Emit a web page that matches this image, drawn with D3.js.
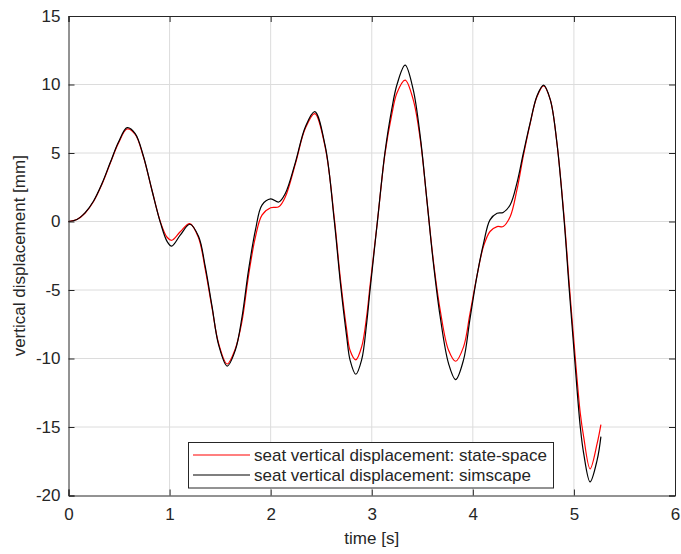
<!DOCTYPE html>
<html>
<head>
<meta charset="utf-8">
<script src="https://cdn.jsdelivr.net/npm/d3@7/dist/d3.min.js"></script>
<style>
  html, body { margin: 0; padding: 0; background: #fff; }
  svg { display: block; }
  text { font-family: "Liberation Sans", Arial, Helvetica, sans-serif; fill: #262626; }
</style>
</head>
<body>
<svg id="chart" width="681" height="554"></svg>
<script>
// Sample times [s]
const time = [
  0.000, 0.083, 0.165, 0.248, 0.330, 0.413, 0.495, 0.580, 0.660, 0.740,
  0.825, 0.910, 0.975, 1.020, 1.105, 1.200, 1.287, 1.353, 1.420, 1.485,
  1.570, 1.650, 1.716, 1.780, 1.850, 1.914, 2.000, 2.080, 2.145, 2.244,
  2.343, 2.436, 2.540, 2.630, 2.690, 2.752, 2.785, 2.842, 2.900, 2.950,
  2.983, 3.056, 3.130, 3.198, 3.250, 3.330, 3.410, 3.480, 3.545, 3.610,
  3.677, 3.760, 3.830, 3.908, 3.970, 4.040, 4.106, 4.170, 4.240, 4.300,
  4.370, 4.436, 4.500, 4.567, 4.634, 4.700, 4.766, 4.832, 4.904, 4.954,
  5.007, 5.063, 5.096, 5.160, 5.230, 5.267
];

// Seat vertical displacement, state-space model [mm]
const stateSpace = [
  0.00, 0.14, 0.62, 1.46, 2.70, 4.25, 5.74, 6.75, 6.35, 4.75,
  2.30, -0.05, -1.15, -1.37, -0.75, -0.15, -1.20, -3.50, -6.30, -8.90,
  -10.40, -9.30, -7.30, -4.00, -1.10, 0.46, 1.00, 1.07, 1.80, 4.20,
  6.80, 7.88, 5.40, 0.20, -4.20, -7.90, -9.40, -10.10, -9.15, -6.90,
  -4.70, 0.00, 4.90, 7.80, 9.40, 10.32, 8.90, 6.00, 1.60, -2.90,
  -6.46, -9.40, -10.20, -9.15, -6.80, -4.00, -1.80, -0.73, -0.37, -0.37,
  0.37, 2.30, 4.80, 7.15, 9.10, 9.90, 8.90, 5.73, 0.20, -4.60,
  -9.40, -14.00, -15.70, -18.05, -16.20, -14.83
];

// Seat vertical displacement, Simscape model [mm]
const simscape = [
  0.00, 0.15, 0.65, 1.50, 2.75, 4.30, 5.80, 6.85, 6.42, 4.80,
  2.30, -0.10, -1.45, -1.80, -1.00, -0.20, -1.10, -3.30, -6.20, -9.00,
  -10.55, -9.40, -7.00, -3.60, -0.60, 1.20, 1.65, 1.42, 2.05, 4.30,
  6.90, 8.02, 5.50, 0.00, -4.50, -8.40, -10.10, -11.15, -10.10, -7.40,
  -5.00, 0.00, 5.00, 8.20, 10.00, 11.41, 9.63, 6.20, 1.60, -3.05,
  -6.95, -10.37, -11.54, -10.10, -7.20, -4.00, -1.60, 0.12, 0.60, 0.66,
  1.22, 2.80, 5.00, 7.20, 9.15, 9.95, 8.90, 5.73, 0.00, -5.00,
  -10.00, -15.00, -16.90, -19.00, -17.40, -15.70
];

const xTicks = [0, 1, 2, 3, 4, 5, 6];
const yTicks = [-20, -15, -10, -5, 0, 5, 10, 15];

const seriesNames = [
  "seat vertical displacement: state-space",
  "seat vertical displacement: simscape"
];
const seriesColors = ["#ff0000", "#000000"];

const svg = d3.select("#chart");
const plot = { left: 68.5, right: 675, top: 16, bottom: 495.5 };

const x = d3.scaleLinear().domain([0, 6]).range([plot.left, plot.right]);
const y = d3.scaleLinear().domain([-20, 15]).range([plot.bottom, plot.top]);

const axisColor = "#262626";
const fontSize = 17;

// Grid
const grid = svg.append("g");
grid.selectAll("line.vx").data(xTicks.slice(1, -1)).join("line")
  .attr("x1", d => x(d)).attr("x2", d => x(d))
  .attr("y1", plot.top).attr("y2", plot.bottom)
  .attr("stroke", "#dcdcdc").attr("stroke-width", 1);
grid.selectAll("line.hy").data(yTicks.slice(1, -1)).join("line")
  .attr("y1", d => y(d)).attr("y2", d => y(d))
  .attr("x1", plot.left).attr("x2", plot.right)
  .attr("stroke", "#dcdcdc").attr("stroke-width", 1);

// Curves
const line = d3.line().curve(d3.curveCatmullRom.alpha(0.5))
  .x(d => x(d[0])).y(d => y(d[1]));
const series = [stateSpace, simscape];
const curves = svg.append("g");
series.forEach((vals, i) => {
  curves.append("path")
    .datum(time.map((t, k) => [t, vals[k]]))
    .attr("d", line)
    .attr("fill", "none")
    .attr("stroke", seriesColors[i])
    .attr("stroke-width", 1.2)
    .attr("stroke-linejoin", "round");
});

// Axes (ticks inward, mirrored box)
const tickLen = 6;
const xAxis = d3.axisBottom(x).tickValues(xTicks).tickSize(-tickLen).tickPadding(12)
  .tickFormat(d3.format("d"));
const yAxis = d3.axisLeft(y).tickValues(yTicks).tickSize(-tickLen).tickPadding(8)
  .tickFormat(d => d < 0 ? "-" + Math.abs(d) : String(d));

const gx = svg.append("g").attr("transform", `translate(0,${plot.bottom})`).call(xAxis);
const gy = svg.append("g").attr("transform", `translate(${plot.left},0)`).call(yAxis);
const gxTop = svg.append("g").attr("transform", `translate(0,${plot.top})`)
  .call(d3.axisTop(x).tickValues(xTicks).tickSize(-tickLen).tickFormat(""));
const gyRight = svg.append("g").attr("transform", `translate(${plot.right},0)`)
  .call(d3.axisRight(y).tickValues(yTicks).tickSize(-tickLen).tickFormat(""));

[gx, gy, gxTop, gyRight].forEach(g => {
  g.select(".domain").attr("stroke", axisColor).attr("stroke-width", 1);
  g.selectAll(".tick line").attr("stroke", axisColor).attr("stroke-width", 1);
  g.selectAll(".tick text")
    .attr("fill", axisColor)
    .style("font-size", fontSize + "px")
    .style("font-family", '"Liberation Sans", Arial, sans-serif');
});

// Axis labels
svg.append("text")
  .attr("x", (plot.left + plot.right) / 2).attr("y", 544)
  .attr("text-anchor", "middle")
  .style("font-size", fontSize + "px")
  .text("time [s]");

svg.append("text")
  .attr("transform", `translate(25,${(plot.top + plot.bottom) / 2}) rotate(-90)`)
  .attr("text-anchor", "middle")
  .style("font-size", fontSize + "px")
  .text("vertical displacement [mm]");

// Legend
const legend = svg.append("g");
legend.append("rect")
  .attr("x", 188.5).attr("y", 442.5)
  .attr("width", 365).attr("height", 45.5)
  .attr("fill", "#fff").attr("stroke", axisColor).attr("stroke-width", 1);
seriesNames.forEach((name, i) => {
  const ly = 455 + i * 20;
  legend.append("line")
    .attr("x1", 193).attr("x2", 250).attr("y1", ly).attr("y2", ly)
    .attr("stroke", seriesColors[i]).attr("stroke-width", 1.2);
  legend.append("text")
    .attr("x", 254).attr("y", ly + 6)
    .style("font-size", fontSize + "px")
    .attr("fill", "#000")
    .text(name);
});
</script>
</body>
</html>
